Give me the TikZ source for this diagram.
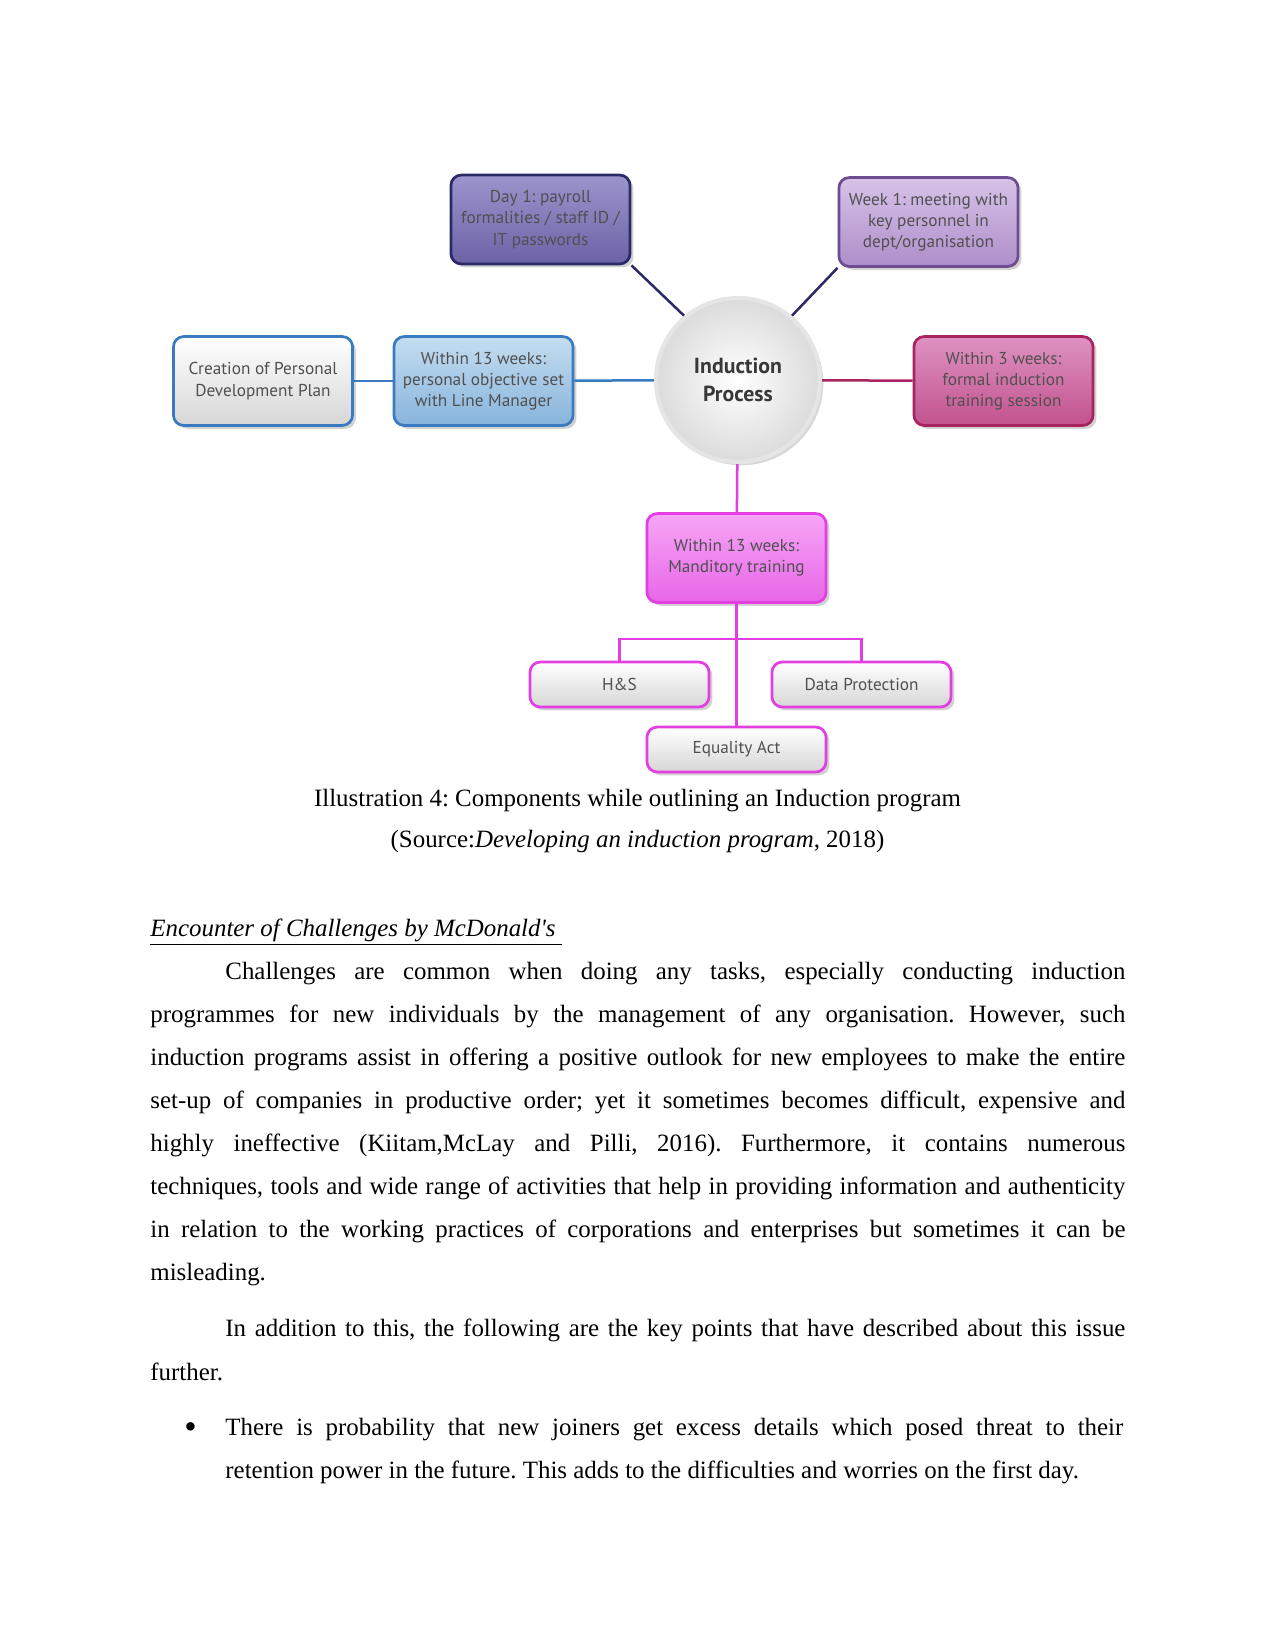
\documentclass[tikz,border=0pt]{standalone}
\usepackage{fontspec}
\setmainfont{Liberation Serif}
\newfontfamily\diagfont{PT Sans}
\usetikzlibrary{shadows}
\definecolor{Label}{HTML}{505050}
\definecolor{Navy}{HTML}{2C2A66}
\definecolor{DayTop}{HTML}{9C94CC}
\definecolor{DayBot}{HTML}{6C62A6}
\definecolor{Lilac}{HTML}{6E4C92}
\definecolor{WeekTop}{HTML}{D8C2E8}
\definecolor{WeekBot}{HTML}{AE8ECA}
\definecolor{Rose}{HTML}{A8245E}
\definecolor{RoseTop}{HTML}{DE92C2}
\definecolor{RoseBot}{HTML}{C2528E}
\definecolor{Steel}{HTML}{3A7AC0}
\definecolor{SkyTop}{HTML}{C4DDF0}
\definecolor{SkyBot}{HTML}{88B4DC}
\definecolor{Magenta}{HTML}{E23EE2}
\definecolor{MagTop}{HTML}{F6A6F6}
\definecolor{MagBot}{HTML}{E866E8}
\definecolor{Pale}{HTML}{D6D6D6}
\newcommand{\jline}[1]{\makebox[468bp][s]{#1}}
\newcommand{\jlinein}[1]{\makebox[432bp][s]{#1}}
\frenchspacing

\begin{document}
\begin{tikzpicture}[
  x=0.48bp,y=-0.48bp,
  box/.style={draw,line width=1.3bp,rounded corners=5bp,minimum width=86bp,minimum height=42.7bp,align=center,inner sep=2pt,
    font=\diagfont\fontsize{8.3}{10.2}\selectfont,text=Label,
    drop shadow={shadow xshift=1.6bp,shadow yshift=-1.6bp,opacity=.35}},
  small/.style={box,minimum height=21.6bp},
  daybox/.style={box,draw=Navy,top color=DayTop,bottom color=DayBot},
  weekbox/.style={box,draw=Lilac,top color=WeekTop,bottom color=WeekBot},
  rosebox/.style={box,draw=Rose,top color=RoseTop,bottom color=RoseBot},
  skybox/.style={box,draw=Steel,top color=SkyTop,bottom color=SkyBot},
  plainbox/.style={box,draw=Steel,top color=white,bottom color=Pale},
  magbox/.style={box,draw=Magenta,top color=MagTop,bottom color=MagBot},
  subbox/.style={small,draw=Magenta,top color=white,bottom color=Pale},
  hub/.style={circle,minimum size=78.7bp,draw=gray!20,line width=2bp,shading=radial,inner color=white,outer color=gray!28,
    align=center,font=\diagfont\bfseries\fontsize{10.5}{13.4}\selectfont,text=black!78,
    drop shadow={shadow xshift=1.6bp,shadow yshift=-1.6bp,opacity=.3}},
  link/.style={line width=1.2bp},
  body/.style={anchor=base west,inner sep=0pt,font=\fontsize{12}{14}\selectfont}
]
\useasboundingbox[fill=white] (0,0) rectangle (1275,1651);

% diagram
\node[hub] (induction) at (738,380) {Induction\\Process};
\node[daybox] (day1) at (540.5,219.5) {Day 1: payroll\\formalities / staff ID /\\IT passwords};
\node[weekbox] (week1) at (928.5,222) {Week 1: meeting with\\key personnel in\\dept/organisation};
\node[rosebox] (weeks3) at (1003.5,381) {Within 3 weeks:\\formal induction\\training session};
\node[skybox] (objective) at (483.5,381) {Within 13 weeks:\\personal objective set\\with Line Manager};
\node[plainbox] (pdp) at (263,381) {Creation of Personal\\Development Plan};
\node[magbox] (mandatory) at (736.5,558) {Within 13 weeks:\\Manditory training};
\node[subbox] (hs) at (619.5,684.5) {H\&S};
\node[subbox] (dataprot) at (861.5,684.5) {Data Protection};
\node[subbox] (equality) at (736.5,749.5) {Equality Act};
\coordinate (fork) at (736.5,639);

\draw[link,Navy] (day1.south east) -- (induction.130);
\draw[link,Navy] (week1.south west) -- (induction.50);
\draw[link,Steel] (pdp) -- (objective);
\draw[link,Steel] (objective) -- (induction);
\draw[link,Rose] (induction) -- (weeks3);
\draw[link,Magenta] (induction) -- (mandatory);
\draw[link,Magenta] (mandatory) -- (equality);
\draw[link,Magenta] (hs.north) |- (fork) -| (dataprot.north);

% caption
\node[body,anchor=base] (cap1) at (637.5,806) {Illustration 4: Components while outlining an Induction program};
\node[body,anchor=base] (cap2) at (637.5,847) {(Source:\textit{Developing an induction program}, 2018)};

% text
\node[body] (head) at (150,936) {\underline{\textit{Encounter of Challenges by McDonald\textquotesingle s}\ }};
\node[body] (p1a) at (225,979) {\jlinein{Challenges are common when doing any tasks, especially conducting induction}};
\node[body] (p1b) at (150,1022) {\jline{programmes for new individuals by the management of any organisation. However, such}};
\node[body] (p1c) at (150,1065) {\jline{induction programs assist in offering a positive outlook for new employees to make the entire}};
\node[body] (p1d) at (150,1108) {\jline{set-up of companies in productive order; yet it sometimes becomes difficult, expensive and}};
\node[body] (p1e) at (150,1151) {\jline{highly ineffective (Kiitam,McLay and Pilli, 2016). Furthermore, it contains numerous}};
\node[body] (p1f) at (150,1194) {\jline{techniques, tools and wide range of activities that help in providing information and authenticity}};
\node[body] (p1g) at (150,1237) {\jline{in relation to the working practices of corporations and enterprises but sometimes it can be}};
\node[body] (p1h) at (150,1280) {misleading.};
\node[body] (p2a) at (225,1336) {\jlinein{In addition to this, the following are the key points that have described about this issue}};
\node[body] (p2b) at (150,1380) {further.};
\node[body] (dot) at (184,1435) {\fontsize{17}{17}\selectfont\raisebox{-1.5pt}{\textbullet}};
\node[body] (p3a) at (225,1435) {\makebox[431bp][s]{There is probability that new joiners get excess details which posed threat to their}};
\node[body] (p3b) at (225,1478) {retention power in the future. This adds to the difficulties and worries on the first day.};
\end{tikzpicture}
\end{document}
